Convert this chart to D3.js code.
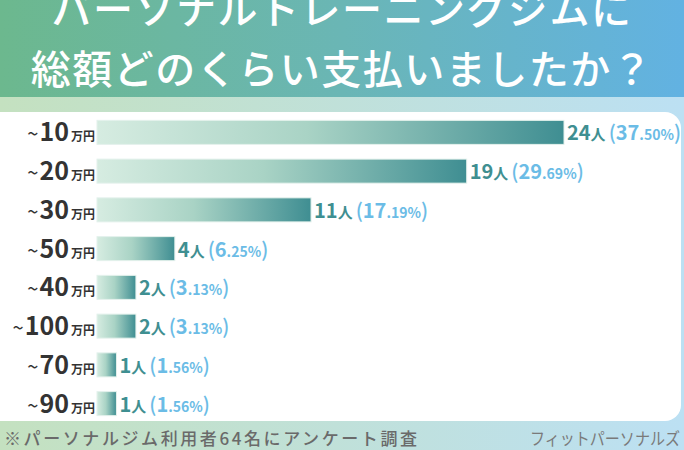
<!DOCTYPE html>
<html>
<head>
<meta charset="utf-8">
<script src="https://cdn.jsdelivr.net/npm/d3@7"></script>
<style>
  body { margin: 0; padding: 0; overflow: hidden; background: #fff; }
  svg { display: block; font-family: "Noto Sans CJK JP", "Noto Sans", sans-serif; }
</style>
</head>
<body>
<div id="chart"></div>
<script>
// data
let categories = ["10", "20", "30", "50", "40", "100", "70", "90"];
let counts = [24, 19, 11, 4, 2, 2, 1, 1];
let percents = ["37.50", "29.69", "17.19", "6.25", "3.13", "3.13", "1.56", "1.56"];
let titleLines = ["パーソナルトレーニングジムに", "総額どのくらい支払いましたか？"];
let footNote = "※パーソナルジム利用者64名にアンケート調査";
let brand = "フィットパーソナルズ";

let width = 684, height = 450;

let svg = d3.select("#chart").append("svg")
    .attr("width", width)
    .attr("height", height);

let defs = svg.append("defs");

// header gradient
let hg = defs.append("linearGradient").attr("id", "headGrad");
hg.append("stop").attr("offset", "0%").attr("stop-color", "#6cb88e");
hg.append("stop").attr("offset", "50%").attr("stop-color", "#6ab6b5");
hg.append("stop").attr("offset", "100%").attr("stop-color", "#62b2e2");

// light band behind the panel
let bg = defs.append("linearGradient").attr("id", "bandGrad");
bg.append("stop").attr("offset", "0%").attr("stop-color", "#c4e1c0");
bg.append("stop").attr("offset", "100%").attr("stop-color", "#bce0f3");

// bar gradient, one per bar (objectBoundingBox)
let barG = defs.append("linearGradient").attr("id", "barGrad");
barG.append("stop").attr("offset", "0%").attr("stop-color", "#d6ece1");
barG.append("stop").attr("offset", "45%").attr("stop-color", "#a9d3c5");
barG.append("stop").attr("offset", "100%").attr("stop-color", "#3f8e92");

svg.append("rect").attr("x", 0).attr("y", 0).attr("width", width).attr("height", height)
    .attr("fill", "url(#bandGrad)");
svg.append("rect").attr("x", 0).attr("y", 0).attr("width", width).attr("height", 97)
    .attr("fill", "url(#headGrad)");

// title
svg.selectAll("text.title")
    .data(titleLines)
    .enter()
    .append("text")
    .attr("class", "title")
    .attr("x", width / 2)
    .attr("y", (d, i) => 24 + i * 60)
    .attr("text-anchor", "middle")
    .attr("fill", "#ffffff")
    .attr("font-size", 40)
    .attr("font-weight", 500)
    .attr("letter-spacing", 1.5)
    .text(d => d);

// white panel
svg.append("rect")
    .attr("x", -20).attr("y", 112)
    .attr("width", 701).attr("height", 309)
    .attr("rx", 16).attr("ry", 16)
    .attr("fill", "#ffffff");

let x = d3.scaleLinear().domain([0, 24]).range([97, 564]);
let y = d3.scaleBand()
    .domain(categories)
    .range([113, 423])
    .paddingInner(0.38)
    .paddingOuter(0.19);

let rows = svg.append("g").attr("id", "bars")
    .selectAll("g")
    .data(categories)
    .enter()
    .append("g");

rows.append("rect")
    .attr("x", x(0))
    .attr("y", d => y(d))
    .attr("width", (d, i) => x(counts[i]) - x(0))
    .attr("height", y.bandwidth())
    .attr("fill", "url(#barGrad)")
    .attr("stroke", "#e4f1ec")
    .attr("stroke-width", 1);

// category labels
let cat = rows.append("text")
    .attr("x", 95)
    .attr("y", d => y(d) + y.bandwidth() / 2 + 9)
    .attr("text-anchor", "end")
    .attr("fill", "#333333")
    .attr("font-weight", 700);
cat.append("tspan").attr("font-size", 20).attr("font-weight", 400).text("~");
cat.append("tspan").attr("font-size", 25).attr("dx", 1).text(d => d);
cat.append("tspan").attr("font-size", 12).attr("dx", 2).text("万円");

// value labels
let val = rows.append("text")
    .attr("x", (d, i) => x(counts[i]) + 3)
    .attr("y", d => y(d) + y.bandwidth() / 2 + 8)
    .attr("font-weight", 700);
val.append("tspan").attr("fill", "#3f8f91").attr("font-size", 20).text((d, i) => counts[i]);
val.append("tspan").attr("fill", "#3f8f91").attr("font-size", 15).text("人");
val.append("tspan").attr("fill", "#6bbce6").attr("font-size", 20).attr("dx", 3).attr("font-weight", 500).text("(");
val.append("tspan").attr("fill", "#6bbce6").attr("font-size", 20)
    .text((d, i) => percents[i].split(".")[0]);
val.append("tspan").attr("fill", "#6bbce6").attr("font-size", 14)
    .text((d, i) => "." + percents[i].split(".")[1] + "%");
val.append("tspan").attr("fill", "#6bbce6").attr("font-size", 20).attr("font-weight", 500).text(")");

// footer
svg.append("text")
    .attr("x", 4)
    .attr("y", 445)
    .attr("fill", "#6a6a6a")
    .attr("font-size", 17)
    .attr("font-weight", 500)
    .attr("textLength", 413)
    .text(footNote);

svg.append("text")
    .attr("x", 530)
    .attr("y", 445)
    .attr("fill", "#7a7a7a")
    .attr("font-size", 17)
    .attr("font-weight", 400)
    .attr("textLength", 150)
    .attr("lengthAdjust", "spacingAndGlyphs")
    .text(brand);
</script>
</body>
</html>
